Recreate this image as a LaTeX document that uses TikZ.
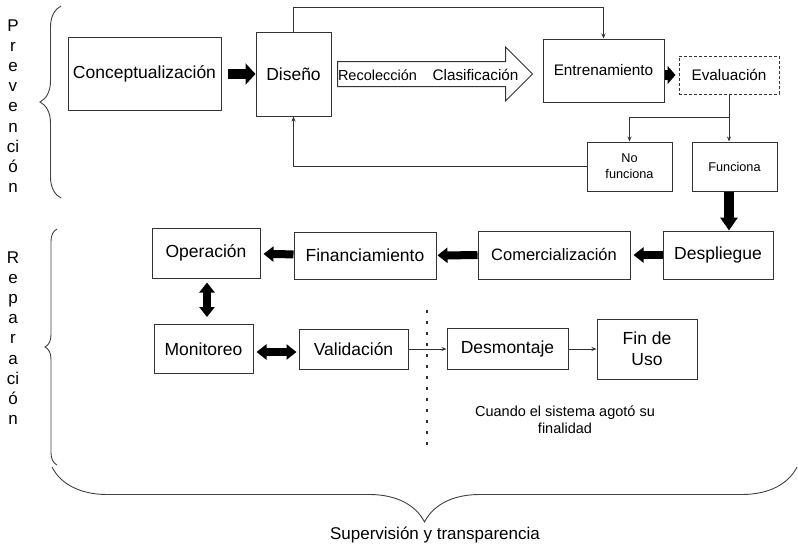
\documentclass[tikz,border=0pt]{standalone}
\usepackage{fontspec}
\setmainfont{Liberation Sans}
\usetikzlibrary{arrows.meta,shapes.arrows,decorations.pathreplacing}

\begin{document}
\begin{tikzpicture}[x=1pt,y=-1pt,draw=black!80,line width=1pt]

	\def \upper{74}
	\def \middle{255}
	\def \lower{349}
	\tikzstyle{box}=[draw,rectangle,inner sep=0pt,align=center,font=\fontsize{17.5}{21}\selectfont]
	\tikzstyle{mid}=[font=\fontsize{15.3}{17}\selectfont]
	\tikzstyle{small}=[font=\fontsize{12.7}{16}\selectfont]
	\tikzstyle{stage}=[align=center,font=\fontsize{17}{20.2}\selectfont]
	\tikzstyle{fat}=[draw=black,line width=8pt,-{Triangle[length=10pt,width=15pt]}]
	\tikzstyle{fatboth}=[draw=black,line width=7.5pt,{Triangle[length=10pt,width=15pt]}-{Triangle[length=10pt,width=15pt]}]
	\tikzstyle{thin}=[line width=0.9pt,-{Stealth[length=5pt,width=4pt]}]
	\tikzstyle{bracket}=[decorate,line width=0.9pt,draw=black!75]
	\useasboundingbox (0,0) rectangle (798,546);

	% labels
	\node[stage] (prevlabel) at (13,106) {P\\r\\e\\v\\e\\n\\ci\\ó\\n};
	\node[stage] (replabel) at (13,338) {R\\e\\p\\a\\r\\a\\ci\\ó\\n};
	\node[font=\fontsize{17}{20}\selectfont] (supervision) at (435,535) {Supervisión y transparencia};
	\node[mid,font=\fontsize{14.5}{17}\selectfont,align=center] (note) at (565,420) {Cuando el sistema agotó su\\finalidad};

	% brackets
	\draw[bracket,decoration={brace,amplitude=21pt}] (61,198) -- (61,6);
	\draw[bracket,decoration={brace,amplitude=12pt}] (57,465) -- (57,229);
	\draw[bracket,decoration={brace,amplitude=55pt}] (797,467) -- (52,467);

	% prevention
	\node[box,minimum width=153,minimum height=73] (concept) at (144.5,\upper) {Conceptualización};
	\node[box,minimum width=75,minimum height=84] (diseno) at (293.5,\upper) {Diseño};
	\node[single arrow,draw,anchor=tail,inner xsep=0pt,inner ysep=12pt,minimum height=195,single arrow head extend=14.5pt] (datos) at (337,\upper) {};
	\node[mid,font=\fontsize{14.5}{17}\selectfont] (recol) at (377.5,75) {Recolección};
	\node[mid] (clasif) at (475.5,75) {Clasificación};
	\node[box,mid,minimum width=121,minimum height=63] (entren) at (603.5,70.5) {Entrenamiento};
	\node[box,mid,minimum width=100,minimum height=38,dash pattern=on 3pt off 2pt] (eval) at (729,75) {Evaluación};
	\node[box,small,minimum width=85,minimum height=49] (nofunc) at (629.5,166.5) {No\\funciona};
	\node[box,small,minimum width=85,minimum height=49] (func) at (734.5,166.5) {Funciona};

	% reparation
	\node[box,minimum width=110,minimum height=48] (desp) at (718,\middle) {Despliegue};
	\node[box,font=\fontsize{16.5}{20}\selectfont,minimum width=152,minimum height=48] (comer) at (554,\middle) {Comercialización};
	\node[box,minimum width=142,minimum height=47] (finan) at (365,255.5) {Financiamiento};
	\node[box,minimum width=108,minimum height=50] (oper) at (206,253) {Operación};
	\node[box,minimum width=99,minimum height=49] (monit) at (203.5,\lower) {Monitoreo};
	\node[box,minimum width=109,minimum height=40] (valid) at (353.5,\lower) {Validación};
	\node[box,minimum width=121,minimum height=41] (desm) at (507.5,\lower) {Desmontaje};
	\node[box,minimum width=100,minimum height=60] (finuso) at (647,\lower) {Fin de\\Uso};

	% end of life
	\coordinate (cuttop) at (427,310);
	\coordinate (cutbot) at (427,450);
	\draw[line width=2.6pt,dash pattern=on 2.6pt off 8.4pt] (cuttop) -- (cutbot);

	% connectors
	\draw[fat,line width=10pt,-{Triangle[length=10pt,width=21pt]},shorten <=6pt] (concept) -- (diseno);
	\draw[fat,line width=10pt,-{Triangle[length=8pt,width=18pt]},shorten >=3pt] (entren.east |- eval) -- (eval);
	\draw[fat,line width=10pt,-{Triangle[length=13pt,width=17pt]}] (func.south -| eval.south) -- (desp.north -| eval.south);
	\draw[fat,shorten >=3pt] (desp) -- (comer);
	\draw[fat,shorten >=1pt] (comer) -- (finan);
	\draw[fat,shorten >=3pt] (finan) -- (oper);
	\draw[fatboth,shorten <=4pt,shorten >=7pt] (oper.south -| 207,0) -- (monit.north -| 207,0);
	\draw[fatboth,shorten <=3pt,shorten >=2pt] (monit.east |- 0,352) -- (valid.west |- 0,352);
	\draw[thin] (diseno.north) -- ++(0,-24) -| (entren.north);
	\draw[thin] (nofunc.west) -| (diseno.south);
	\draw[thin] (eval.south) -- ++(0,23) coordinate (split) -| (nofunc.north);
	\draw[thin] (split) -- (split |- func.north);
	\draw[thin] (valid.east) -- (desm.west);
	\draw[thin] (desm.east) -- (desm.east -| finuso.west);

\end{tikzpicture}
\end{document}
